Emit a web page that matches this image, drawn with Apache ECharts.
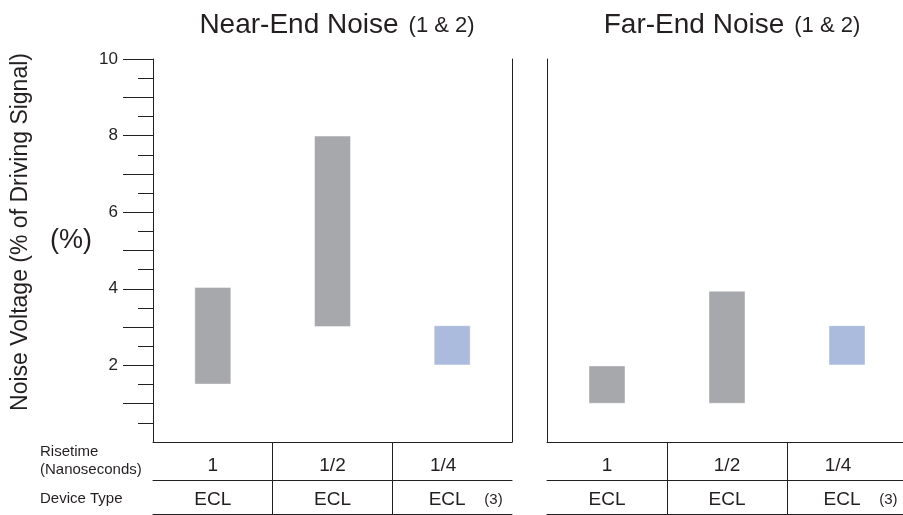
<!DOCTYPE html>
<html>
<head>
<meta charset="utf-8">
<title>Near-End / Far-End Noise</title>
<script src="https://cdn.jsdelivr.net/npm/echarts@6.0.0/dist/echarts.min.js"></script>
<style>
  html, body { margin: 0; padding: 0; background: #fff; }
  #chart { width: 903px; height: 515px; }
</style>
</head>
<body>
<div id="chart"></div>
<script>
// columns: risetime (ns) and the device type underneath
var risetimes = ['1', '1/2', '1/4'];
var devices = ['ECL', 'ECL', 'ECL'];
var deviceNotes = ['', '', '(3)'];

// noise range in % of driving signal (bottom / top of each bar)
var nearLow = [1.5, 3, 2];
var nearHigh = [4.05, 8, 3.05];
var farLow = [1, 1, 2];
var farHigh = [2, 3.95, 3.05];

// y axis ticks
var majorTicks = [1, 2, 3, 4, 5, 6, 7, 8, 9, 10];
var minorTicks = [0.5, 1.5, 2.5, 3.5, 4.5, 5.5, 6.5, 7.5, 8.5, 9.5];
var tickLabels = [2, 4, 6, 8, 10];
// column separators in the table under the plots
var columnEdges = [1, 2];

var ink = '#231f20';
var gray = '#a7a8ab';
var blue = '#aabbdd';
var font = '"Liberation Sans", Arial, Helvetica, sans-serif';

var chart = echarts.init(document.getElementById('chart'));

function barColor(p) {
  return deviceNotes[p.dataIndex] ? blue : gray;
}
function span(low, high) {
  return high.map(function (h, i) { return +(h - low[i]).toFixed(2); });
}
function risetimeLabel(value, idx) {
  // the noted column sits a little left of centre in the original
  return deviceNotes[idx] ? '{shift|' + value + '}' : value;
}
function deviceLabel(value, idx) {
  // keep "ECL" roughly centred, note sits to its right
  return deviceNotes[idx] ? '{pad|}' + value + '{note|' + deviceNotes[idx] + '}' : value;
}

function tableAxes(grid) {
  return [
    {
      gridIndex: grid, type: 'category', data: risetimes, position: 'bottom', offset: 0,
      axisLine: { onZero: false, lineStyle: { color: ink, width: 1 } },
      axisTick: { show: false },
      axisLabel: {
        interval: 0, margin: 14, fontSize: 19, color: ink, fontFamily: font,
        formatter: risetimeLabel,
        rich: {
          shift: { fontSize: 19, color: ink, fontFamily: font, padding: [0, 18, 0, 0] }
        }
      },
      splitLine: { show: false }
    },
    {
      gridIndex: grid, type: 'category', data: devices, position: 'bottom', offset: 38,
      axisLine: { onZero: false, lineStyle: { color: ink, width: 1 } },
      axisTick: { show: false },
      axisLabel: {
        interval: 0, hideOverlap: false,
        margin: 10, fontSize: 19, color: ink, fontFamily: font,
        formatter: deviceLabel,
        rich: {
          pad: { width: 27 },
          note: { width: 37, align: 'right', fontSize: 15, color: ink, fontFamily: font }
        }
      },
      splitLine: { show: false }
    },
    {
      gridIndex: grid, type: 'value', min: 0, max: 3, position: 'bottom', offset: 72,
      axisLine: { onZero: false, lineStyle: { color: ink, width: 1 } },
      axisTick: { show: true, inside: true, length: 72, customValues: columnEdges, lineStyle: { color: ink, width: 1 } },
      axisLabel: { show: false },
      splitLine: { show: false }
    }
  ];
}

function titleText(main) {
  return {
    text: '{a|' + main + '}{b|(1 & 2)}',
    top: 5,
    textAlign: 'center',
    textStyle: {
      fontWeight: 'normal',
      rich: {
        a: { fontSize: 28, fontWeight: 'normal', color: ink, fontFamily: font, lineHeight: 30 },
        b: { fontSize: 22, fontWeight: 'normal', color: ink, fontFamily: font, lineHeight: 30, padding: [2, 0, 0, 10] }
      }
    }
  };
}

var nearTitle = titleText('Near-End Noise');
nearTitle.left = 332;
var farTitle = titleText('Far-End Noise');
farTitle.left = 727;

var option = {
  animation: false,
  backgroundColor: '#fff',
  textStyle: { fontFamily: font },
  title: [nearTitle, farTitle],
  grid: [
    { left: 153, top: 59, width: 359, height: 383, outerBoundsMode: 'none', containLabel: false },
    { left: 547, top: 59, width: 360, height: 383, outerBoundsMode: 'none', containLabel: false }
  ],
  xAxis: tableAxes(0).concat(tableAxes(1)),
  yAxis: [
    {
      gridIndex: 0, type: 'value', min: 0, max: 10, interval: 1, position: 'left',
      axisLine: { show: true, onZero: false, lineStyle: { color: ink, width: 1 } },
      axisTick: { show: true, length: 30, customValues: majorTicks, lineStyle: { color: ink, width: 1 } },
      axisLabel: { customValues: tickLabels, margin: 35, fontSize: 17, color: ink, fontFamily: font },
      splitLine: { show: false }
    },
    {
      gridIndex: 0, type: 'value', min: 0, max: 10, interval: 1, position: 'left',
      axisLine: { show: false, onZero: false },
      axisTick: { show: true, length: 15, customValues: minorTicks, lineStyle: { color: ink, width: 1 } },
      axisLabel: { show: false },
      splitLine: { show: false }
    },
    {
      gridIndex: 0, type: 'value', min: 0, max: 10, position: 'right',
      axisLine: { show: true, onZero: false, lineStyle: { color: ink, width: 1 } },
      axisTick: { show: false },
      axisLabel: { show: false },
      splitLine: { show: false }
    },
    {
      gridIndex: 1, type: 'value', min: 0, max: 10, position: 'left',
      axisLine: { show: true, onZero: false, lineStyle: { color: ink, width: 1 } },
      axisTick: { show: false },
      axisLabel: { show: false },
      splitLine: { show: false }
    }
  ],
  graphic: [
    {
      type: 'text', x: 21, y: 232, rotation: Math.PI / 2,
      style: { text: 'Noise Voltage (% of Driving Signal)', font: '23px ' + font, fill: ink, align: 'center', verticalAlign: 'middle' }
    },
    {
      type: 'text', x: 71, y: 241,
      style: { text: '(%)', font: '27px ' + font, fill: ink, align: 'center', verticalAlign: 'middle' }
    },
    {
      type: 'text', x: 40, y: 461,
      style: { text: 'Risetime\n(Nanoseconds)', font: '15px ' + font, lineHeight: 18, fill: ink, align: 'left', verticalAlign: 'middle' }
    },
    {
      type: 'text', x: 40, y: 499,
      style: { text: 'Device Type', font: '15px ' + font, fill: ink, align: 'left', verticalAlign: 'middle' }
    }
  ],
  series: [
    {
      name: 'near base', type: 'bar', xAxisIndex: 0, yAxisIndex: 0, stack: 'near',
      barWidth: 37, silent: true, data: nearLow,
      itemStyle: { color: 'transparent' }
    },
    {
      name: 'Near-End Noise', type: 'bar', xAxisIndex: 0, yAxisIndex: 0, stack: 'near',
      barWidth: 37, data: span(nearLow, nearHigh),
      itemStyle: { color: barColor, borderColor: 'rgba(255,255,255,0.45)', borderWidth: 1 }
    },
    {
      name: 'far base', type: 'bar', xAxisIndex: 3, yAxisIndex: 3, stack: 'far',
      barWidth: 37, silent: true, data: farLow,
      itemStyle: { color: 'transparent' }
    },
    {
      name: 'Far-End Noise', type: 'bar', xAxisIndex: 3, yAxisIndex: 3, stack: 'far',
      barWidth: 37, data: span(farLow, farHigh),
      itemStyle: { color: barColor, borderColor: 'rgba(255,255,255,0.45)', borderWidth: 1 }
    }
  ]
};

chart.setOption(option);
window.addEventListener('resize', function () {
  chart.resize();
});
</script>
</body>
</html>
